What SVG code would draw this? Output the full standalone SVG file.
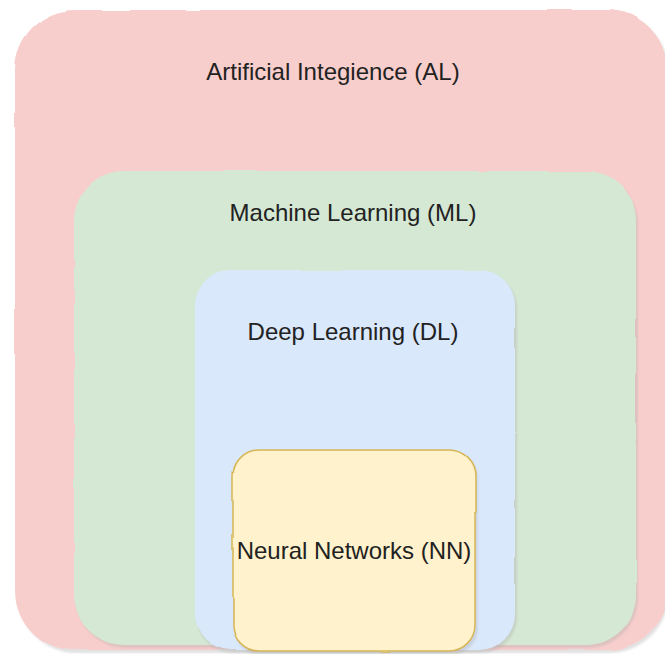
<svg xmlns="http://www.w3.org/2000/svg" width="665" height="654" viewBox="0 0 665 654">
  <defs>
    <!-- soft hand-drawn edge plus a light drop shadow -->
    <filter id="sketch" x="-5%" y="-5%" width="110%" height="110%">
      <feTurbulence type="fractalNoise" baseFrequency="0.02" numOctaves="2" seed="3" result="noise"/>
      <feDisplacementMap in="SourceGraphic" in2="noise" scale="3" xChannelSelector="R" yChannelSelector="G" result="wob"/>
      <feGaussianBlur in="wob" stdDeviation="1.2" result="soft"/>
      <feOffset in="SourceAlpha" dx="2" dy="3" result="off"/>
      <feGaussianBlur in="off" stdDeviation="1.2" result="sb"/>
      <feColorMatrix in="sb" type="matrix" values="0 0 0 0 0.4  0 0 0 0 0.4  0 0 0 0 0.4  0 0 0 0.35 0" result="shadow"/>
      <feMerge>
        <feMergeNode in="shadow"/>
        <feMergeNode in="wob"/>
      </feMerge>
    </filter>
  </defs>
  <style>
    .label { font-family: "Liberation Sans", Arial, sans-serif; font-size: 24px; fill: #222; text-anchor: middle; }
    .ai { fill: #f8cecc; }
    .ml { fill: #d5e8d4; }
    .dl { fill: #dae8fc; }
    .nn { fill: #fff2cc; stroke: #d6b656; stroke-width: 1.5; }
  </style>
  <rect width="665" height="654" fill="#ffffff"/>

  <g id="ai">
    <rect class="ai" x="15" y="10" width="652" height="640" rx="60" ry="60" filter="url(#sketch)"/>
    <text class="label" x="333" y="80">Artificial Integience (AL)</text>
  </g>

  <g id="ml">
    <rect class="ml" x="74" y="171" width="562" height="474" rx="50" ry="50" filter="url(#sketch)"/>
    <text class="label" x="353" y="221">Machine Learning (ML)</text>
  </g>

  <g id="dl">
    <rect class="dl" x="195" y="270" width="320" height="380" rx="36" ry="36" filter="url(#sketch)"/>
    <text class="label" x="353" y="340">Deep Learning (DL)</text>
  </g>

  <g id="nn">
    <rect class="nn" x="233" y="450" width="242" height="201" rx="26" ry="26" filter="url(#sketch)"/>
    <text class="label" x="354" y="559">Neural Networks (NN)</text>
  </g>

  <g id="connectors"/>
</svg>
